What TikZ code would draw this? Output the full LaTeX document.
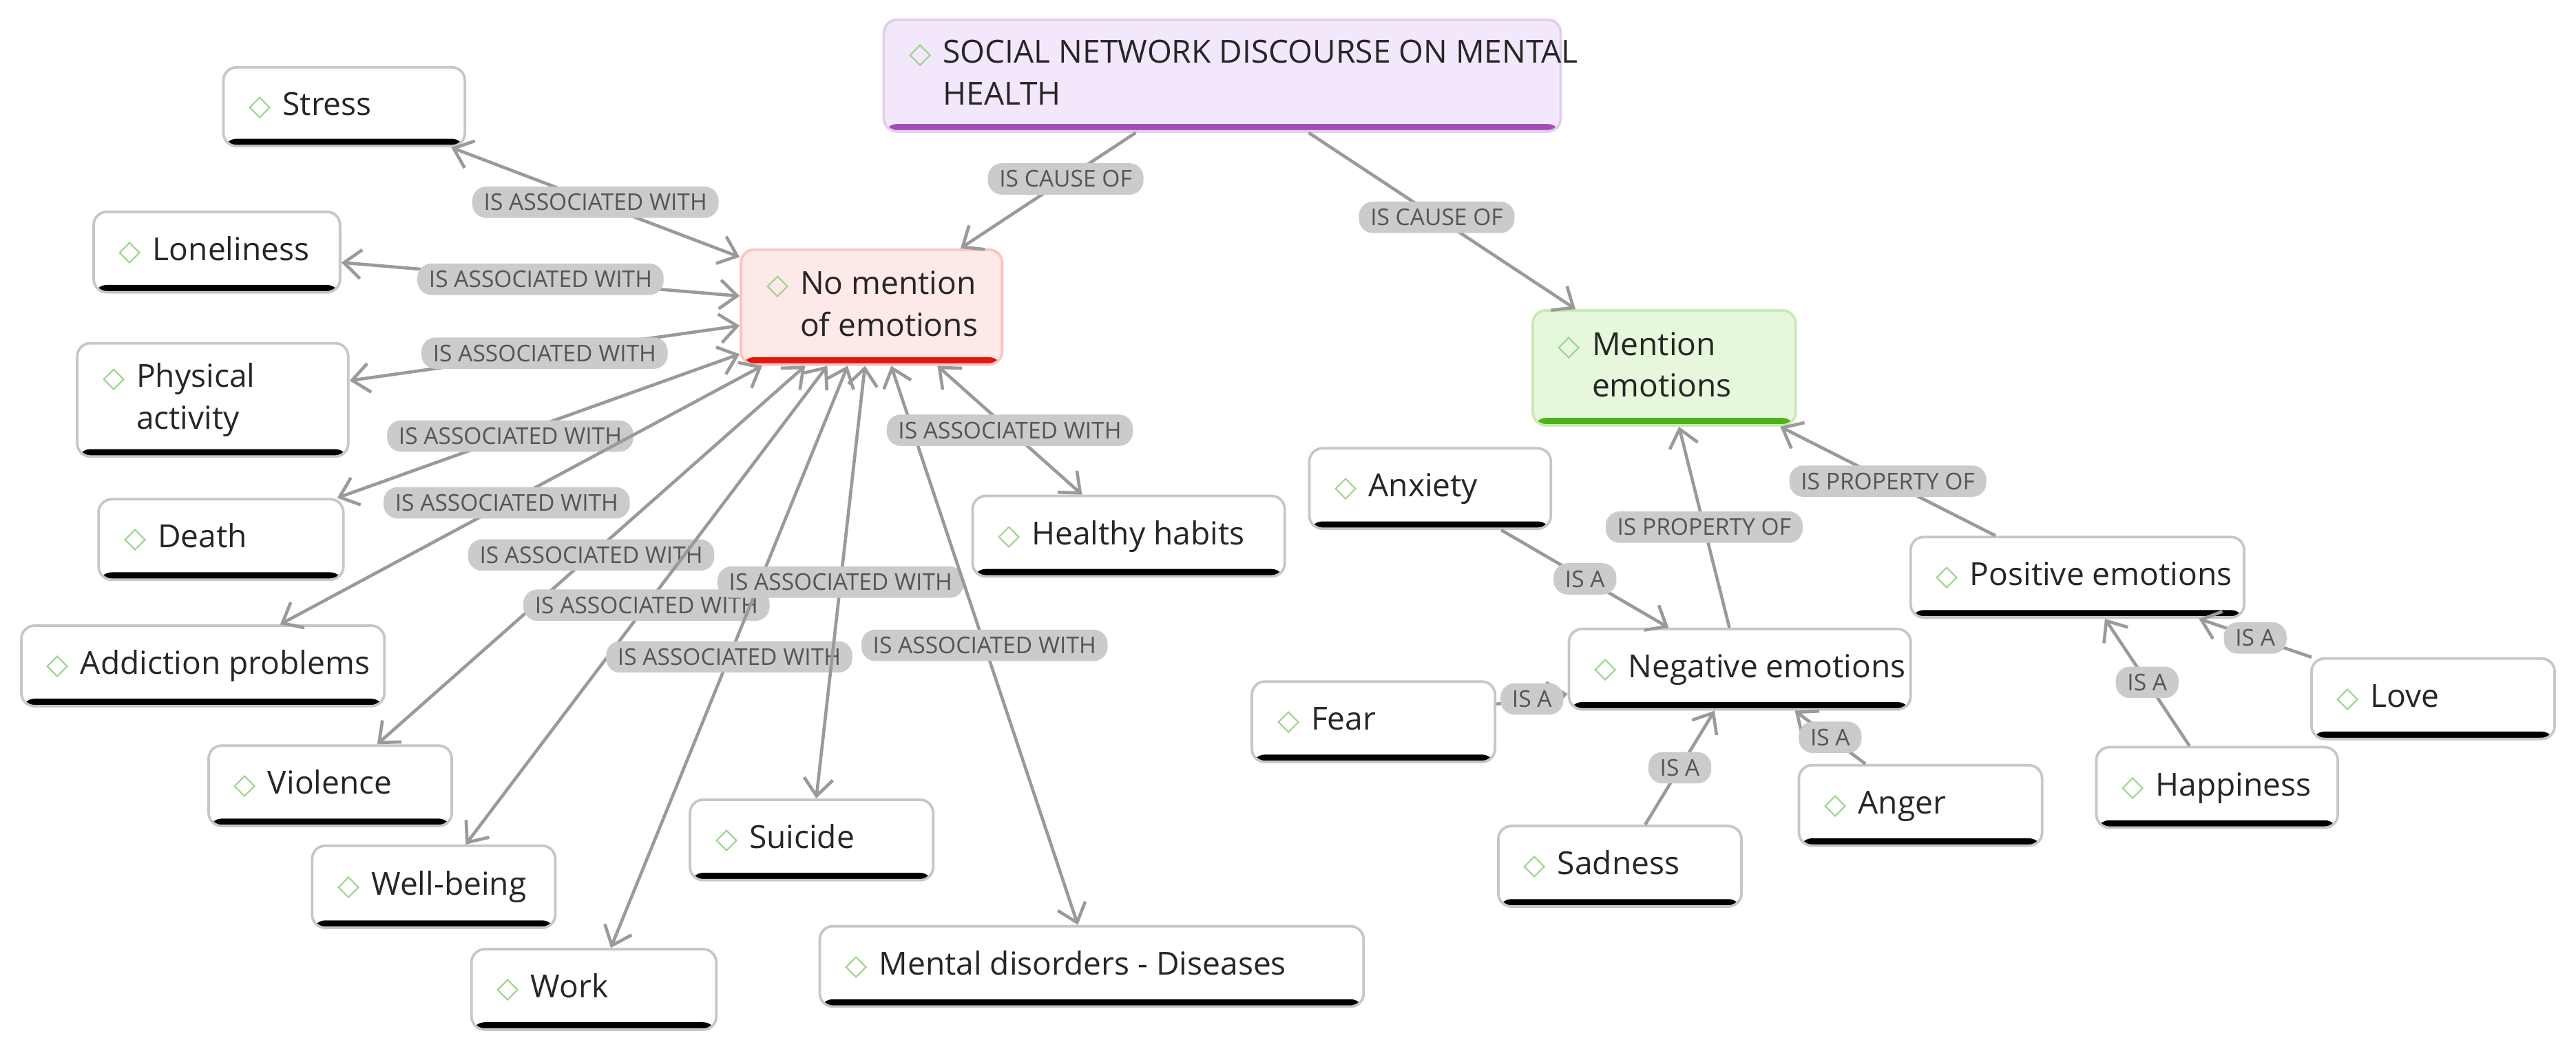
\documentclass[tikz,border=0pt]{standalone}
\usepackage{fontspec}
\setmainfont{Open Sans}
\newfontfamily\diafont{DejaVu Sans}
\usetikzlibrary{arrows.meta}
\definecolor{edgec}{HTML}{9A9A9A}
\definecolor{labf}{HTML}{CBCBCB}
\definecolor{labt}{HTML}{555555}
\definecolor{diac}{HTML}{9AD48A}
\definecolor{purf}{HTML}{F3E8FB}
\definecolor{purb}{HTML}{A64CB5}
\definecolor{purd}{HTML}{E2CCEF}
\definecolor{redf}{HTML}{FDE9E8}
\definecolor{redb}{HTML}{E0190F}
\definecolor{redd}{HTML}{FBC4C1}
\definecolor{grnf}{HTML}{E6F7DC}
\definecolor{grnb}{HTML}{4DB31B}
\definecolor{grnd}{HTML}{C6EBB3}
\newcommand{\dia}{{\diafont\color{diac}\fontsize{10}{10}\selectfont ◇}}
\newcommand{\btxt}[2]{\makebox[\dimexpr 0.02cm*#1-0.62cm\relax][l]{\dia\hspace{4pt}\begin{tabular}[t]{@{}l@{}}#2\end{tabular}}}
\tikzset{
  barcol/.store in=\barcolor, barcol=black,
  box/.style n args={2}{draw=black!22, line width=0.9pt, fill=white, rounded corners=0.16cm,
    minimum width=#1*0.02cm, minimum height=#2*0.02cm, inner xsep=0.3cm,
    font=\fontsize{11}{14.5}\selectfont, text=black!85,
    path picture={\fill[\barcolor] ([yshift=0.09cm]path picture bounding box.south west) rectangle (path picture bounding box.south east);}},
  lab/.style={fill=labf, rounded corners=0.17cm, inner xsep=4pt, inner ysep=2.5pt,
    font=\fontsize{8}{9}\selectfont, text=labt},
  e/.style={draw=edgec, line width=1.1pt, -{Straight Barb[length=6pt,width=10pt]}},
  ee/.style={draw=edgec, line width=1.1pt, {Straight Barb[length=6pt,width=10pt]}-{Straight Barb[length=6pt,width=10pt]}},
}
\begin{document}
\begin{tikzpicture}[x=0.02cm,y=-0.02cm]
\useasboundingbox (0,0) rectangle (1568,640);
\node[box={412}{68}, barcol=purb, fill=purf, draw=purd] (top) at (744,46) {\btxt{412}{SOCIAL NETWORK DISCOURSE ON MENTAL\\HEALTH}};
\node[box={159}{70}, barcol=redb, fill=redf, draw=redd] (nm) at (530.5,187) {\btxt{159}{No mention\\of emotions}};
\node[box={160}{70}, barcol=grnb, fill=grnf, draw=grnd] (me) at (1013,224) {\btxt{160}{Mention\\emotions}};
\node[box={147}{48}] (stress) at (209.5,65) {\btxt{147}{Stress}};
\node[box={150}{49}] (lon) at (132,153.5) {\btxt{150}{Loneliness}};
\node[box={165}{69}] (phys) at (129.5,243.5) {\btxt{165}{Physical\\activity}};
\node[box={149}{49}] (death) at (134.5,328.5) {\btxt{149}{Death}};
\node[box={221}{49}] (addict) at (123.5,405.5) {\btxt{221}{Addiction problems}};
\node[box={148}{49}] (viol) at (201,478.5) {\btxt{148}{Violence}};
\node[box={148}{50}] (well) at (264,540) {\btxt{148}{Well-being}};
\node[box={149}{49}] (work) at (361.5,602.5) {\btxt{149}{Work}};
\node[box={148}{49}] (suic) at (494,511.5) {\btxt{148}{Suicide}};
\node[box={331}{49}] (mental) at (664.5,588.5) {\btxt{331}{Mental disorders - Diseases}};
\node[box={190}{49}] (healthy) at (687,326.5) {\btxt{190}{Healthy habits}};
\node[box={147}{49}] (anx) at (870.5,297.5) {\btxt{147}{Anxiety}};
\node[box={208}{49}] (neg) at (1059,407.5) {\btxt{208}{Negative emotions}};
\node[box={148}{49}] (fear) at (836,439.5) {\btxt{148}{Fear}};
\node[box={148}{49}] (sad) at (986,527.5) {\btxt{148}{Sadness}};
\node[box={148}{49}] (anger) at (1169,490.5) {\btxt{148}{Anger}};
\node[box={203}{49}] (pos) at (1264.5,351.5) {\btxt{203}{Positive emotions}};
\node[box={148}{49}] (love) at (1481,425.5) {\btxt{148}{Love}};
\node[box={147}{49}] (happy) at (1349.5,479.5) {\btxt{147}{Happiness}};

\draw[e] (top) -- node[lab,pos=0.4]{IS CAUSE OF} (nm);
\draw[e] (top) -- node[lab,pos=0.48]{IS CAUSE OF} (me);
\foreach \t/\p in {stress/0.5,lon/0.5,phys/0.5,death/0.57,addict/0.53,viol/0.5,well/0.5,work/0.5,suic/0.5,mental/0.5,healthy/0.5}{
  \draw[ee] (nm) -- node[lab,pos=\p]{IS ASSOCIATED WITH} (\t);
}
\draw[e] (anx) -- node[lab]{IS A} (neg);
\draw[e] (fear) -- node[lab]{IS A} (neg);
\draw[e] (sad) -- node[lab]{IS A} (neg);
\draw[e] (anger) -- node[lab]{IS A} (neg);
\draw[e] (happy) -- node[lab]{IS A} (pos);
\draw[e] (love) -- node[lab]{IS A} (pos);
\draw[e] (neg) -- node[lab]{IS PROPERTY OF} (me);
\draw[e] (pos) -- node[lab]{IS PROPERTY OF} (me);
\end{tikzpicture}
\end{document}
